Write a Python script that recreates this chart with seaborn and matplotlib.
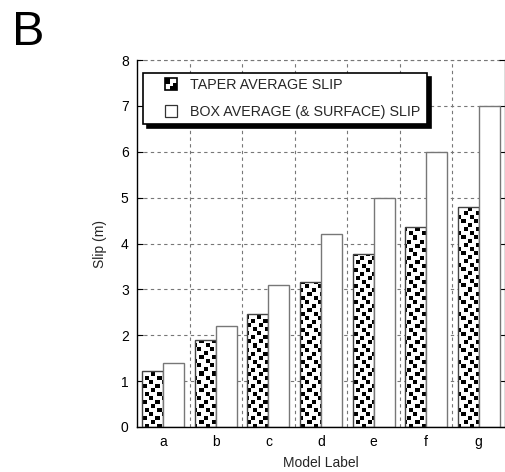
import numpy as np
import pandas as pd
import matplotlib
matplotlib.use("Agg")
import matplotlib.pyplot as plt
import seaborn as sns
from matplotlib.patches import Rectangle, Patch
from matplotlib.legend_handler import HandlerBase

# ---- data ----
models = ["a", "b", "c", "d", "e", "f", "g"]
taper_slip = [1.22, 1.90, 2.47, 3.15, 3.77, 4.37, 4.80]
box_slip = [1.40, 2.20, 3.10, 4.20, 5.00, 6.00, 7.00]
series_names = ["TAPER AVERAGE SLIP", "BOX AVERAGE (& SURFACE) SLIP"]
y_ticks = [0, 1, 2, 3, 4, 5, 6, 7, 8]

df = pd.DataFrame({
    "model": models * 2,
    "slip": taper_slip + box_slip,
    "series": [series_names[0]] * len(models) + [series_names[1]] * len(models),
})

sns.set_theme(style="white")
plt.rcParams["font.family"] = ["Liberation Sans", "DejaVu Sans"]

W, H = 506, 472
fig = plt.figure(figsize=(W / 100, H / 100), dpi=100)
ax = fig.add_axes([137 / W, 1 - 427 / H, (505 - 137) / W, (427 - 60) / H])

sns.barplot(data=df, x="model", y="slip", hue="series", order=models,
            hue_order=series_names, palette=["white", "white"],
            width=0.8, gap=0, legend=False, ax=ax, saturation=1)

ax.set_xlim(-0.5, len(models) - 0.5)
ax.set_ylim(0, 8)
ax.set_yticks(y_ticks)

# grid
ax.set_axisbelow(True)
ax.set_xticks(np.arange(len(models) - 1) + 0.5, minor=True)
ax.grid(True, which="major", axis="y", linestyle=(0, (3, 3)), color="#777777", lw=0.8)
ax.grid(True, which="minor", axis="x", linestyle=(0, (3, 3)), color="#777777", lw=0.8)
ax.grid(False, which="major", axis="x")
ax.axhline(8, linestyle=(0, (3, 3)), color="#777777", lw=0.8, zorder=0.5, clip_on=False)

# spines
ax.spines["top"].set_visible(False)
ax.spines["left"].set_color("black")
ax.spines["left"].set_linewidth(1.0)
ax.spines["bottom"].set_color("black")
ax.spines["bottom"].set_linewidth(1.0)
ax.spines["right"].set_color("#555555")
ax.spines["right"].set_linewidth(1.0)

ax.tick_params(axis="y", which="major", direction="in", length=4, width=0.8,
               left=True, right=True, labelsize=10, colors="black", pad=6)
ax.tick_params(axis="x", which="major", length=0, labelsize=10, pad=6, colors="black")
ax.tick_params(axis="x", which="minor", length=0)
ax.set_xlabel("Model Label", fontsize=10, labelpad=5)
ax.set_ylabel("Slip (m)", fontsize=10, labelpad=10)

# ---- pattern of black squares for taper bars (texture tile, px) ----
tile = np.ones((16, 12))
for (r, c) in [(0, 0), (4, 6), (8, 2), (12, 8)]:
    tile[r:r + 4, c:c + 4] = 0.0
nr, nc = 367, 368
img = np.tile(tile, (nr // 16 + 1, nc // 12 + 1))[:nr, :nc]

taper_bars = ax.containers[0]
box_bars = ax.containers[1]
for bar in taper_bars:
    bar.set_facecolor("none")
    bar.set_edgecolor("#444444")
    bar.set_linewidth(1.0)
    bar.set_zorder(1.2)
    im = ax.imshow(img, cmap="gray", vmin=0, vmax=1, extent=(-0.5, len(models) - 0.5, 0, 8),
                   origin="upper", aspect="auto", interpolation="nearest", zorder=1.1)
    im.set_clip_path(bar)
for bar in box_bars:
    bar.set_facecolor("white")
    bar.set_edgecolor("#777777")
    bar.set_linewidth(1.0)
    bar.set_zorder(1.2)
ax.set_xlim(-0.5, len(models) - 0.5)
ax.set_ylim(0, 8)


# ---- legend ----
class PatternHandler(HandlerBase):
    def create_artists(self, legend, orig_handle, xdescent, ydescent, width, height, fontsize, trans):
        s = min(width, height)
        x0 = -xdescent + width - s
        y0 = -ydescent + (height - s) / 2
        arts = [Rectangle((x0, y0), s, s, facecolor="white", edgecolor="black", lw=1.2, transform=trans)]
        arts.append(Rectangle((x0, y0 + 0.5 * s), 0.45 * s, 0.5 * s, facecolor="black", lw=0, transform=trans))
        arts.append(Rectangle((x0 + 0.45 * s, y0), 0.55 * s, 0.3 * s, facecolor="black", lw=0, transform=trans))
        arts.append(Rectangle((x0 + 0.7 * s, y0), 0.3 * s, 0.6 * s, facecolor="black", lw=0, transform=trans))
        return arts


class SquareHandler(HandlerBase):
    def create_artists(self, legend, orig_handle, xdescent, ydescent, width, height, fontsize, trans):
        s = min(width, height)
        x0 = -xdescent + width - s
        y0 = -ydescent + (height - s) / 2
        return [Rectangle((x0, y0), s, s, facecolor="white", edgecolor="#333333", lw=0.9, transform=trans)]


h1 = Patch(facecolor="white", edgecolor="black")
h2 = Patch(facecolor="white", edgecolor="gray")
fs = 10.3
fpx = fs * 100 / 72
leg = ax.legend([h1, h2], series_names,
                handler_map={h1: PatternHandler(), h2: SquareHandler()},
                loc="upper left",
                bbox_to_anchor=(143 / W, 1 - 124 / H, (427 - 143) / W, 51 / H),
                mode="expand",
                bbox_transform=fig.transFigure, borderaxespad=0,
                prop={"size": fs}, frameon=True, fancybox=False,
                shadow={"color": "black", "alpha": 1, "ox": 3, "oy": -3},
                handlelength=29 / fpx, handleheight=13 / fpx, handletextpad=13 / fpx,
                labelspacing=0.9, borderpad=5 / fpx)
leg.get_frame().set_edgecolor("black")
leg.get_frame().set_linewidth(1.2)
leg.get_frame().set_facecolor("white")
leg.get_frame().set_alpha(1)
leg.set_zorder(5)

fig.text(12 / W, 1 - 45 / H, "B", fontsize=35, ha="left", va="baseline", color="black")

fig.savefig("out.png", dpi=100)
